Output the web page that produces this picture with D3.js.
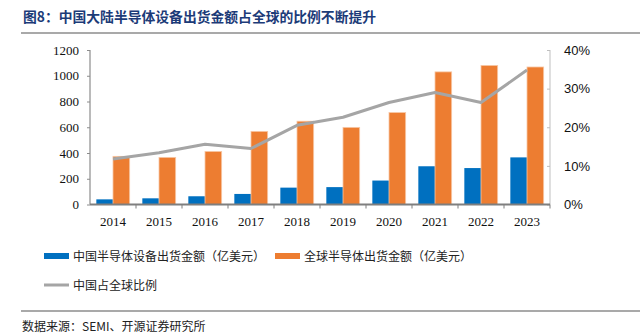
<!DOCTYPE html>
<html>
<head>
<meta charset="utf-8">
<script src="https://cdn.jsdelivr.net/npm/d3@7"></script>
<style>
  body { margin: 0; background: #fff; }
  svg { display: block; }
</style>
</head>
<body>
<script>
// data
const years = ["2014", "2015", "2016", "2017", "2018", "2019", "2020", "2021", "2022", "2023"];
const chinaSales = [40, 48, 64, 82, 131, 135, 186, 297, 283, 366];
const globalSales = [374, 366, 412, 568, 647, 599, 714, 1030, 1080, 1068];
const chinaShare = [11.8, 13.4, 15.6, 14.5, 20.5, 22.6, 26.4, 29.0, 26.4, 34.8];
const leftTicks = [0, 200, 400, 600, 800, 1000, 1200];
const rightTicks = [0, 10, 20, 30, 40];

const W = 640, H = 334;
const blue = "#0070c0", orange = "#ed7d31", grey = "#a5a5a5";
const serif = "'Liberation Serif', 'Times New Roman', serif";
const cjk = "'Noto Sans CJK SC', sans-serif";

const svg = d3.select("body").append("svg")
    .attr("width", W)
    .attr("height", H);

// title + rules
svg.append("text")
    .attr("x", 23).attr("y", 22)
    .attr("font-family", cjk)
    .attr("font-size", 13.8)
    .attr("font-weight", "bold")
    .attr("fill", "#1c3b78")
    .text("图8：中国大陆半导体设备出货金额占全球的比例不断提升");

svg.append("line")
    .attr("x1", 21).attr("x2", W).attr("y1", 33).attr("y2", 33)
    .attr("stroke", "#8c8c8c").attr("stroke-width", 1.5);

svg.append("line")
    .attr("x1", 21).attr("x2", W).attr("y1", 311).attr("y2", 311)
    .attr("stroke", "#8c8c8c").attr("stroke-width", 1.5);

svg.append("text")
    .attr("x", 22).attr("y", 331)
    .attr("font-family", cjk)
    .attr("font-size", 12)
    .attr("fill", "#222")
    .text("数据来源：SEMI、开源证券研究所");

// scales
const x = d3.scaleBand().domain(years).range([90, 550]);
const inner = d3.scaleBand().domain(["cn", "gl"]).range([0, x.bandwidth()]).paddingInner(0).paddingOuter(0.38);
const y = d3.scaleLinear().domain([0, 1200]).range([204.5, 50]);
const y2 = d3.scaleLinear().domain([0, 40]).range([204.5, 50]);

// bars
const g = svg.append("g");
g.selectAll("rect.cn")
    .data(years)
    .enter()
    .append("rect")
    .attr("class", "cn")
    .attr("x", d => x(d) + inner("cn"))
    .attr("y", (d, i) => y(chinaSales[i]))
    .attr("width", inner.bandwidth())
    .attr("height", (d, i) => y(0) - y(chinaSales[i]))
    .attr("fill", blue);

g.selectAll("rect.gl")
    .data(years)
    .enter()
    .append("rect")
    .attr("class", "gl")
    .attr("x", d => x(d) + inner("gl"))
    .attr("y", (d, i) => y(globalSales[i]))
    .attr("width", inner.bandwidth())
    .attr("height", (d, i) => y(0) - y(globalSales[i]))
    .attr("fill", orange)
    .attr("stroke", "#f7c7a5")
    .attr("stroke-width", 0.8);

// left axis
const leftAxis = svg.append("g")
    .attr("transform", "translate(90,0)")
    .call(d3.axisLeft(y).tickValues(leftTicks).tickSize(3).tickPadding(8).tickFormat(d3.format("d")));
leftAxis.select(".domain").attr("stroke", "#8c8c8c").attr("stroke-width", 1.2).attr("d", "M0,204.5V50");
leftAxis.selectAll(".tick line").attr("stroke", "#8c8c8c");
leftAxis.selectAll("text").attr("font-family", serif).attr("font-size", 13).attr("fill", "#111");

// right axis
const rightAxis = svg.append("g")
    .attr("transform", "translate(550,0)")
    .call(d3.axisRight(y2).tickValues(rightTicks).tickSize(-3).tickPadding(14).tickFormat(d => d + "%"));
rightAxis.select(".domain").attr("stroke", "#bfbfbf").attr("stroke-width", 1).attr("d", "M0,204.5V50");
rightAxis.selectAll(".tick line").attr("stroke", "#bfbfbf");
rightAxis.selectAll("text").attr("font-family", "'Liberation Sans', Arial, sans-serif").attr("font-size", 13).attr("fill", "#111");

// bottom axis
const bottomAxis = svg.append("g")
    .attr("transform", "translate(0,204.5)")
    .call(d3.axisBottom(x).tickSize(0).tickPadding(12));
bottomAxis.select(".domain").attr("stroke", "#7f7f7f").attr("stroke-width", 2).attr("d", "M90,0H550");
bottomAxis.selectAll("text").attr("font-family", serif).attr("font-size", 13).attr("fill", "#111");
bottomAxis.selectAll(".sep")
    .data(years.slice(1).concat(["end"]))
    .enter()
    .append("line")
    .attr("class", "sep")
    .attr("x1", (d, i) => 90 + x.step() * (i + 1))
    .attr("x2", (d, i) => 90 + x.step() * (i + 1))
    .attr("y1", 0).attr("y2", 4)
    .attr("stroke", "#7f7f7f").attr("stroke-width", 1);

// share line
const line = d3.line()
    .x((d, i) => x(years[i]) + x.bandwidth() / 2)
    .y(d => y2(d));

svg.append("path")
    .datum(chinaShare)
    .attr("d", line)
    .attr("fill", "none")
    .attr("stroke", grey)
    .attr("stroke-width", 3)
    .attr("stroke-linejoin", "round");

// legend
const legend = svg.append("g").attr("font-family", cjk).attr("font-size", 12).attr("fill", "#222");
const legendItems = [
  { label: "中国半导体设备出货金额（亿美元）", color: blue, type: "rect", lx: 44, ly: 256 },
  { label: "全球半导体出货金额（亿美元）", color: orange, type: "rect", lx: 275, ly: 256 },
  { label: "中国占全球比例", color: grey, type: "line", lx: 44, ly: 285 }
];
legendItems.forEach(it => {
  if (it.type === "rect") {
    legend.append("rect")
        .attr("x", it.lx).attr("y", it.ly - 3)
        .attr("width", 25).attr("height", 6)
        .attr("fill", it.color);
  } else {
    legend.append("line")
        .attr("x1", it.lx).attr("x2", it.lx + 25)
        .attr("y1", it.ly).attr("y2", it.ly)
        .attr("stroke", it.color).attr("stroke-width", 3);
  }
  legend.append("text")
      .attr("x", it.lx + 29).attr("y", it.ly + 4.5)
      .text(it.label);
});
</script>
</body>
</html>
